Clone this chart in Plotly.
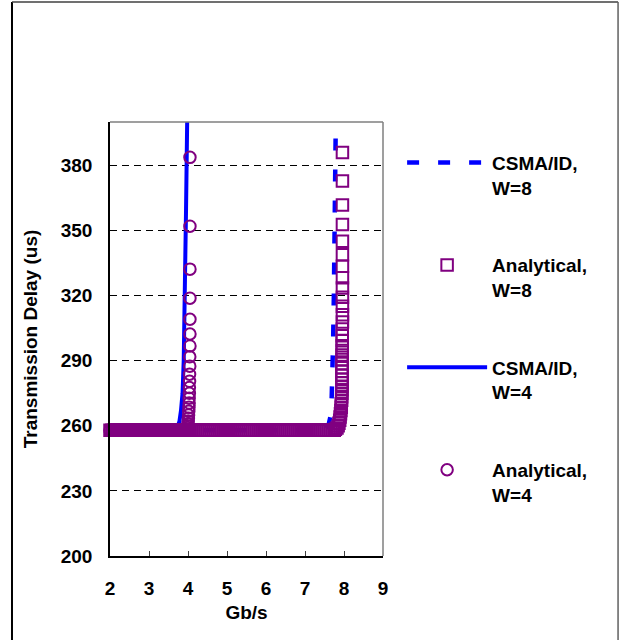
import plotly.graph_objects as go

# ---- data -------------------------------------------------------------
# offered-load sweep on the flat (unsaturated) part, Gb/s
load_grid = [
    2.00, 2.05, 2.10, 2.15, 2.20, 2.25, 2.30, 2.35, 2.40, 2.45,
    2.50, 2.55, 2.60, 2.65, 2.70, 2.75, 2.80, 2.85, 2.90, 2.95,
    3.00, 3.05, 3.10, 3.15, 3.20, 3.25, 3.30, 3.35, 3.40, 3.45,
    3.50, 3.55, 3.60, 3.65, 3.70, 3.75, 3.80, 3.85, 3.90, 3.95,
    4.00, 4.05, 4.10, 4.15, 4.20, 4.25, 4.30, 4.35, 4.40, 4.45,
    4.50, 4.55, 4.60, 4.65, 4.70, 4.75, 4.80, 4.85, 4.90, 4.95,
    5.00, 5.05, 5.10, 5.15, 5.20, 5.25, 5.30, 5.35, 5.40, 5.45,
    5.50, 5.55, 5.60, 5.65, 5.70, 5.75, 5.80, 5.85, 5.90, 5.95,
    6.00, 6.05, 6.10, 6.15, 6.20, 6.25, 6.30, 6.35, 6.40, 6.45,
    6.50, 6.55, 6.60, 6.65, 6.70, 6.75, 6.80, 6.85, 6.90, 6.95,
    7.00, 7.05, 7.10, 7.15, 7.20, 7.25, 7.30, 7.35, 7.40, 7.45,
    7.50, 7.55, 7.60, 7.65, 7.70, 7.75,
]
base_delay = 258.0  # us, delay below saturation

# Analytical, W=4: saturation branch
a4_rise_load = [3.97, 3.98, 3.99, 4.00, 4.005, 4.01, 4.015, 4.02, 4.025, 4.03,
                4.03, 4.035, 4.035, 4.04, 4.04, 4.045, 4.045, 4.05, 4.05, 4.05,
                4.05, 4.05, 4.05, 4.05]
a4_rise_delay = [258.5, 259.2, 260.0, 261.0, 262.2, 263.5, 265.0, 266.7, 268.5, 270.5,
                 272.7, 275.0, 277.6, 280.5, 283.8, 287.5, 291.8, 296.8, 302.3, 309.1,
                 318.8, 332.2, 352.0, 383.7]

# Analytical, W=8: saturation branch
a8_rise_load = [7.78, 7.82, 7.85, 7.87, 7.89, 7.90, 7.91, 7.92, 7.93, 7.93,
                7.94, 7.94, 7.945, 7.945, 7.95, 7.95, 7.95, 7.95, 7.95, 7.95,
                7.95, 7.95, 7.95, 7.955, 7.955, 7.955, 7.955, 7.955, 7.96, 7.96,
                7.96, 7.96, 7.96, 7.96, 7.96, 7.96, 7.96, 7.96, 7.96, 7.96, 7.96]
a8_rise_delay = [258.4, 259.0, 260.0, 261.2, 262.6, 264.0, 265.5, 267.0, 268.6, 270.2,
                 271.8, 273.4, 275.0, 276.6, 278.2, 279.8, 281.5, 283.2, 285.0, 286.8,
                 288.7, 290.6, 292.6, 294.7, 296.9, 299.2, 301.5, 304.6, 307.8, 311.2,
                 315.1, 319.2, 323.5, 328.2, 333.5, 338.8, 345.1, 352.8, 361.7, 372.8, 385.9]

# CSMA/ID simulation curves
sim4_load = [2.0, 3.0, 3.6, 3.72, 3.78, 3.82, 3.86, 3.89, 3.92, 3.95, 3.98]
sim4_delay = [258, 258, 258, 259, 262, 267, 275, 290, 318, 360, 402]
sim8_load = [2.0, 5.0, 7.50, 7.60, 7.65, 7.68, 7.70, 7.72, 7.74, 7.76, 7.78, 7.79]
sim8_delay = [258, 258, 258, 260, 264, 270, 280, 298, 320, 345, 370, 401]

y_ticks = [200, 230, 260, 290, 320, 350, 380]
x_ticks = [2, 3, 4, 5, 6, 7, 8, 9]

# ---- assemble analytical series --------------------------------------
a4_load = [x for x in load_grid if x < 3.97] + a4_rise_load
a4_delay = [base_delay for x in load_grid if x < 3.97] + a4_rise_delay
a8_load = load_grid + a8_rise_load
a8_delay = [base_delay] * len(load_grid) + a8_rise_delay

BLUE = "#0000FF"
PURPLE = "#800080"
FONT = "Liberation Sans, Arial, sans-serif"
FS = 19

fig = go.Figure()

fig.add_trace(go.Scatter(
    x=sim8_load, y=sim8_delay, mode="lines", name="CSMA/ID,<br>W=8",
    line=dict(color=BLUE, width=4.5, dash="12px,19px"),
    legendrank=1, legendgroup="g1"))
fig.add_trace(go.Scatter(
    x=sim4_load, y=sim4_delay, mode="lines", name="CSMA/ID,<br>W=4",
    line=dict(color=BLUE, width=4),
    legendrank=3, legendgroup="g3"))
fig.add_trace(go.Scatter(
    x=a8_load, y=a8_delay, mode="markers", name="Analytical,<br>W=8",
    marker=dict(symbol="square-open", size=11.5, color=PURPLE,
                line=dict(width=2, color=PURPLE)),
    cliponaxis=False, legendrank=2, legendgroup="g2"))
fig.add_trace(go.Scatter(
    x=a4_load, y=a4_delay, mode="markers", name="Analytical,<br>W=4",
    marker=dict(symbol="circle-open", size=11.5, color=PURPLE,
                line=dict(width=2, color=PURPLE)),
    cliponaxis=False, legendrank=4, legendgroup="g4"))

fig.update_layout(
    width=619, height=640,
    margin=dict(l=110, r=236, t=122, b=84),
    paper_bgcolor="white", plot_bgcolor="white",
    font=dict(family=FONT, size=FS, color="black", weight="bold"),
    showlegend=True,
    legend=dict(
        x=1.07, y=0.95, xanchor="left", yanchor="top",
        itemwidth=80, valign="top", tracegroupgap=50,
        font=dict(family=FONT, size=FS, color="black", weight="bold"),
        bgcolor="rgba(0,0,0,0)",
    ),
    xaxis=dict(
        range=[2, 9], tickvals=x_ticks, ticks="inside", ticklen=5,
        tickcolor="#404040", showline=True, linecolor="black", linewidth=1.5,
        showgrid=False, zeroline=False, ticklabelstandoff=14,
        tickfont=dict(family=FONT, size=FS, weight="bold"),
        title=dict(text="Gb/s", standoff=8,
                   font=dict(family=FONT, size=FS, weight="bold")),
    ),
    yaxis=dict(
        range=[200, 400], tickvals=y_ticks, ticks="",
        showline=True, linecolor="black", linewidth=1.5,
        showgrid=True, gridcolor="black", gridwidth=1, griddash="7px,5px",
        zeroline=False, ticklabelstandoff=12,
        tickfont=dict(family=FONT, size=FS, weight="bold"),
        title=dict(text="Transmission Delay (us)", standoff=18,
                   font=dict(family=FONT, size=FS, weight="bold")),
    ),
    shapes=[
        # plot-area top and right edges
        dict(type="line", xref="paper", yref="paper", x0=0, x1=1, y0=1, y1=1,
             line=dict(color="#7f7f7f", width=1.5)),
        dict(type="line", xref="paper", yref="paper", x0=1, x1=1, y0=0, y1=1,
             line=dict(color="#7f7f7f", width=1.5)),
        # chart frame
        dict(type="line", xref="paper", yref="paper", x0=-0.359, x1=-0.359,
             y0=-0.22, y1=1.2765, line=dict(color="black", width=2)),
        dict(type="line", xref="paper", yref="paper", x0=-0.359, x1=1.861,
             y0=1.2765, y1=1.2765, line=dict(color="#404040", width=1.5)),
        dict(type="line", xref="paper", yref="paper", x0=1.861, x1=1.861,
             y0=-0.22, y1=1.2765, line=dict(color="#606060", width=1.5)),
    ],
)

fig.write_html("out.html")
